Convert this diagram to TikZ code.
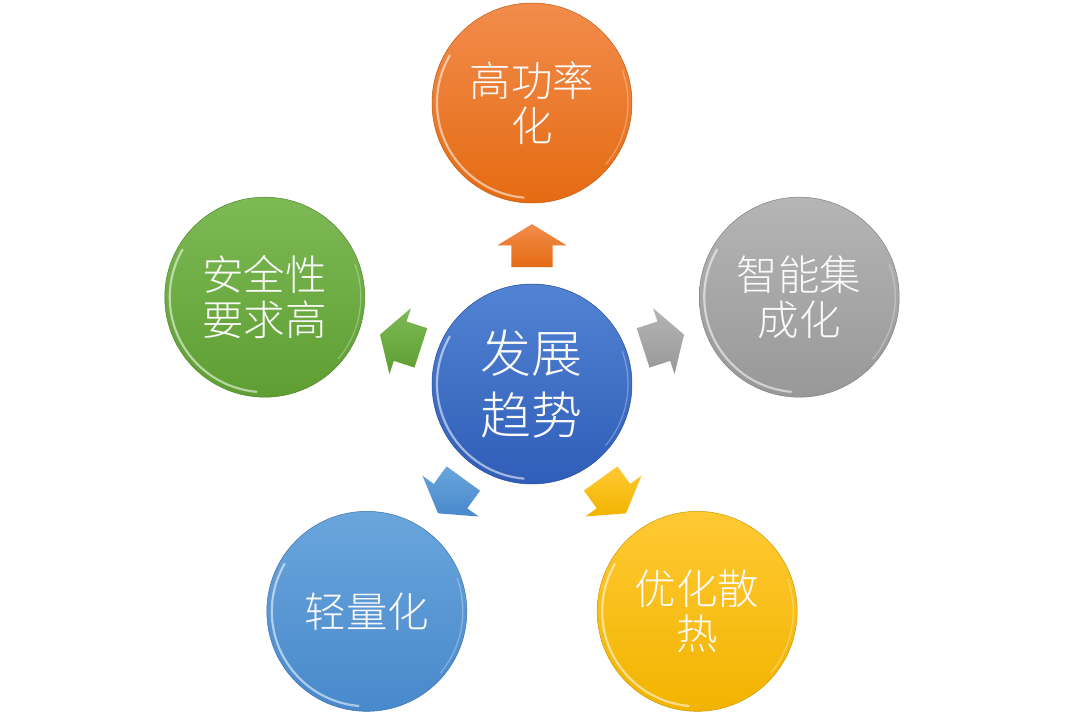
\documentclass[tikz,border=0pt]{standalone}
\usepackage{fontspec}
\IfFontExistsTF{Noto Sans CJK SC Light}
  {\newfontfamily\cjk{Noto Sans CJK SC Light}}
  {\IfFontExistsTF{Noto Sans CJK SC DemiLight}
    {\newfontfamily\cjk{Noto Sans CJK SC DemiLight}}
    {\newfontfamily\cjk{Noto Sans CJK SC}}}
\usetikzlibrary{shapes.arrows,calc}
\definecolor{orT}{HTML}{F28C4C}\definecolor{orB}{HTML}{E56B12}
\definecolor{grT}{HTML}{7DB955}\definecolor{grB}{HTML}{5E9E32}
\definecolor{gyT}{HTML}{B5B5B5}\definecolor{gyB}{HTML}{989898}
\definecolor{blT}{HTML}{5283D3}\definecolor{blB}{HTML}{2F5DB8}
\definecolor{lbT}{HTML}{6AA5DC}\definecolor{lbB}{HTML}{4889CC}
\definecolor{ylT}{HTML}{FFC933}\definecolor{ylB}{HTML}{F2B400}
\tikzset{
  ball/.style n args={2}{circle, minimum size=200pt, inner sep=0pt,
    top color=#1, bottom color=#2, draw=#2!85!black, line width=0.5pt,
    text=white!96!gray, align=center,
    font=\cjk\fontsize{41.5}{45.5}\selectfont},
  hub/.style={font=\cjk\fontsize{51}{62}\selectfont},
  blockarrow/.style n args={2}{single arrow, minimum height=43pt, minimum width=69pt,
    single arrow head extend=14pt, single arrow tip angle=117,
    inner xsep=0pt, inner ysep=20.5pt, font=\fontsize{1}{1}\selectfont,
    top color=#1, bottom color=#2, draw=none},
  rim/.style={white, opacity=.55, line width=2.2pt, line cap=round}
}
\begin{document}
\begin{tikzpicture}
\useasboundingbox[fill=white] (-532pt,-332pt) rectangle (534pt,384pt);
\node[ball={blT}{blB}, hub] (c) at (0,0) {发展\\趋势};
\node[ball={orT}{orB}] (t)  at (90:281pt)  {高功率\\化};
\node[ball={gyT}{gyB}] (r)  at (18:281pt)  {智能集\\成化};
\node[ball={grT}{grB}] (l)  at (162:281pt) {安全性\\要求高};
\node[ball={lbT}{lbB}] (bl) at (234:281pt) {轻量化};
\node[ball={ylT}{ylB}] (br) at (306:281pt) {优化散\\热};
\foreach \n in {c,t,r,l,bl,br}{
  \draw[rim] ([shift={(150:95pt)}]\n.center) arc[start angle=150, end angle=265, radius=95pt];
  \draw[white, opacity=.3, line width=1.2pt] ([shift={(20:96pt)}]\n.center) arc[start angle=20, end angle=-40, radius=96pt];
}
\node[blockarrow={orT}{orB}, rotate=90]  (at) at ($(c)!132pt!(t)$)  {};
\node[blockarrow={gyT}{gyB}, rotate=18]  (ar) at ($(c)!132pt!(r)$)  {};
\node[blockarrow={grT}{grB}, rotate=162] (al) at ($(c)!132pt!(l)$)  {};
\node[blockarrow={lbT}{lbB}, rotate=234] (abl) at ($(c)!132pt!(bl)$) {};
\node[blockarrow={ylT}{ylB}, rotate=306] (abr) at ($(c)!132pt!(br)$) {};
\end{tikzpicture}
\end{document}
